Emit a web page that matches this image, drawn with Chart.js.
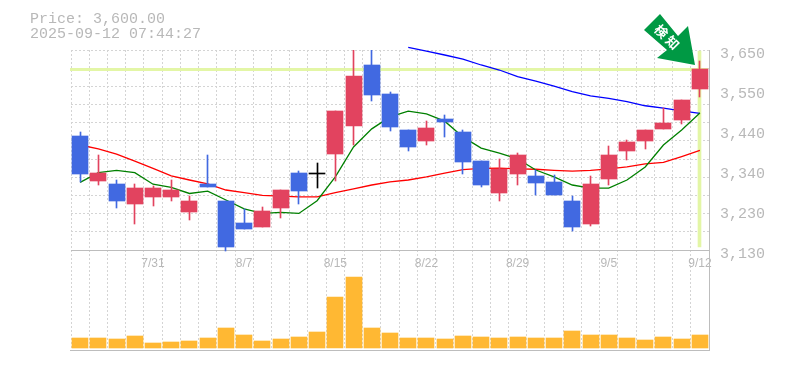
<!DOCTYPE html>
<html lang="ja">
<head>
<meta charset="utf-8">
<title>Price chart</title>
<style>
    html, body { margin: 0; padding: 0; background: #fff; }
    canvas { display: block; }
</style>
</head>
<body>
<canvas id="price-chart" width="785" height="370"></canvas>
<script src="https://cdn.jsdelivr.net/npm/chart.js@4/dist/chart.umd.min.js"></script>
<script>
const dates = ['7/25', '7/28', '7/29', '7/30', '7/31', '8/1', '8/4', '8/5', '8/6', '8/7', '8/8', '8/12',
    '8/13', '8/14', '8/15', '8/18', '8/19', '8/20', '8/21', '8/22', '8/25', '8/26', '8/27', '8/28', '8/29',
    '9/1', '9/2', '9/3', '9/4', '9/5', '9/8', '9/9', '9/10', '9/11', '9/12'];
const labelledDates = ['7/31', '8/7', '8/15', '8/22', '8/29', '9/5', '9/12'];

const openPrices = [3426, 3309, 3302, 3250, 3268, 3268, 3229, 3302, 3257, 3200, 3190, 3239, 3330, 3329, 3380,
    3452, 3611, 3536, 3442, 3413, 3471, 3437, 3361, 3278, 3328, 3322, 3307, 3257, 3198, 3315, 3387, 3413, 3445, 3468, 3549];
const highPrices = [3437, 3377, 3312, 3302, 3296, 3312, 3270, 3377, 3257, 3237, 3242, 3286, 3335, 3356, 3491,
    3690, 3660, 3541, 3442, 3465, 3481, 3442, 3361, 3367, 3382, 3338, 3325, 3270, 3322, 3400, 3416, 3442, 3500, 3520, 3621];
const lowPrices = [3308, 3299, 3239, 3198, 3244, 3257, 3208, 3294, 3127, 3185, 3190, 3213, 3250, 3291, 3309,
    3403, 3517, 3439, 3387, 3403, 3424, 3328, 3294, 3257, 3299, 3273, 3273, 3179, 3192, 3299, 3364, 3393, 3445, 3458, 3528];
const closePrices = [3328, 3330, 3257, 3291, 3291, 3286, 3257, 3294, 3138, 3185, 3231, 3286, 3283, 3329, 3491,
    3582, 3533, 3450, 3398, 3447, 3463, 3359, 3299, 3341, 3377, 3304, 3273, 3190, 3302, 3377, 3411, 3442, 3460, 3520, 3600];

const shortAverage = [3306, 3331, 3337, 3331, 3301, 3293, 3277, 3283, 3260, 3237, 3225, 3228, 3225, 3258, 3320,
    3398, 3445, 3476, 3491, 3484, 3465, 3424, 3395, 3382, 3367, 3338, 3320, 3299, 3291, 3291, 3312, 3346, 3403, 3442, 3486];
const middleAverage = [3403, 3393, 3379, 3361, 3342, 3323, 3312, 3302, 3286, 3279, 3272, 3270, 3268, 3268, 3279,
    3289, 3299, 3307, 3312, 3320, 3330, 3339, 3342, 3343, 3341, 3340, 3337, 3335, 3337, 3341, 3346, 3354, 3358, 3373, 3389];
const longAverage = [null, null, null, null, null, null, null, null, null, null, null, null, null, null, null,
    null, null, null, 3657, 3647, 3637, 3626, 3611, 3598, 3581, 3569, 3556, 3542, 3531, 3524, 3516, 3505, 3499, 3492, 3485];

// thousands of shares
const volumes = [100, 100, 90, 120, 50, 60, 70, 100, 200, 130, 70, 90, 110, 160, 510,
    710, 200, 150, 100, 100, 90, 120, 110, 100, 110, 100, 100, 170, 130, 130, 100, 80, 110, 90, 130];

const priceTicks = [3650, 3546, 3442, 3338, 3234, 3130];
const priceLabels = ['3,650', '3,550', '3,440', '3,340', '3,230', '3,130'];
const priceMax = 3650;
const priceMin = 3130;
const currentPrice = 3600;
const headerLines = ['Price: 3,600.00', '2025-09-12 07:44:27'];
const signalText = ['検', '知'];

const RED = '#e2435f';
const BLUE = '#4169e1';
const BLACK = '#000000';
const ORANGE = '#ffb833';
const HIGHLIGHT = '#e3f6a6';
const GRID = '#d4d4d4';
const AXIS = '#bdbdbd';
const TEXT = '#b8b8b8';
const MONO = '"Liberation Mono", monospace';

function candleColor(index) {
    if (closePrices[index] > openPrices[index]) return RED;
    if (closePrices[index] < openPrices[index]) return BLUE;
    return BLACK;
}

const candleColors = dates.map((d, i) => candleColor(i));
const lastIndex = dates.length - 1;

// Snap bars to whole pixels so the candles stay crisp
const snapBars = {
    id: 'snapBars',
    beforeDatasetsDraw(chart) {
        chart.getSortedVisibleDatasetMetas().forEach(meta => {
            if (meta.type !== 'bar') return;
            meta.data.forEach(bar => {
                if (bar.skip || bar.width === undefined) return;
                bar.x = Math.round(bar.x - bar.width / 2) + bar.width / 2;
                bar.y = Math.round(bar.y);
                bar.base = Math.round(bar.base);
                if (bar.base === bar.y) bar.base = bar.y + 1;
            });
        });
    }
};

// Current price line and the panel's bottom edge
const panelLines = {
    id: 'panelLines',
    beforeDatasetsDraw(chart) {
        const { ctx, chartArea, scales } = chart;
        const priceY = Math.round(scales.y.getPixelForValue(currentPrice));
        ctx.save();
        ctx.fillStyle = HIGHLIGHT;
        ctx.fillRect(chartArea.left - 1, priceY - 1, chartArea.right - chartArea.left, 3);
        ctx.fillStyle = AXIS;
        ctx.fillRect(chartArea.left - 1, chartArea.bottom, chartArea.right - chartArea.left + 2, 1);
        ctx.restore();
    }
};

// Header text and the green signal arrow
const overlay = {
    id: 'overlay',
    afterDraw(chart) {
        const { ctx } = chart;
        ctx.save();
        ctx.font = '15px ' + MONO;
        ctx.fillStyle = TEXT;
        ctx.textBaseline = 'middle';
        ctx.fillText(headerLines[0], 30, 19);
        ctx.fillText(headerLines[1], 30, 34);

        ctx.fillStyle = '#009944';
        ctx.beginPath();
        ctx.moveTo(660, 14);
        ctx.lineTo(644, 30);
        ctx.lineTo(667, 50);
        ctx.lineTo(657, 58);
        ctx.lineTo(695, 65);
        ctx.lineTo(688, 26);
        ctx.lineTo(678, 36);
        ctx.closePath();
        ctx.fill();

        ctx.fillStyle = '#ffffff';
        ctx.font = 'bold 13px "Noto Sans CJK JP"';
        ctx.textAlign = 'center';
        ctx.translate(667, 37);
        ctx.rotate(Math.PI / 4);
        ctx.fillText(signalText[0], -8, 0);
        ctx.fillText(signalText[1], 8, 0);
        ctx.restore();
    }
};

const ctx = document.getElementById('price-chart').getContext('2d');

new Chart(ctx, {
    data: {
        labels: dates,
        datasets: [
            {
                type: 'bar',
                label: 'Latest',
                data: dates.map((d, i) => (i === lastIndex ? [3138, 3647] : null)),
                backgroundColor: HIGHLIGHT,
                barThickness: 3,
                grouped: false,
                order: 6,
                yAxisID: 'y'
            },
            {
                type: 'line',
                label: 'Long average',
                data: longAverage,
                borderColor: '#0000ff',
                borderWidth: 1.3,
                pointRadius: 0,
                tension: 0,
                order: 5,
                clip: { left: 0, top: 4, right: 0, bottom: 0 },
                yAxisID: 'y'
            },
            {
                type: 'line',
                label: 'Middle average',
                data: middleAverage,
                borderColor: '#ff0000',
                borderWidth: 1.3,
                pointRadius: 0,
                tension: 0,
                order: 4,
                yAxisID: 'y'
            },
            {
                type: 'line',
                label: 'Short average',
                data: shortAverage,
                borderColor: '#008000',
                borderWidth: 1.3,
                pointRadius: 0,
                tension: 0,
                order: 3,
                yAxisID: 'y'
            },
            {
                type: 'bar',
                label: 'Wick',
                data: dates.map((d, i) => [lowPrices[i], highPrices[i]]),
                backgroundColor: candleColors,
                barThickness: 1,
                grouped: false,
                order: 2,
                yAxisID: 'y'
            },
            {
                type: 'bar',
                label: 'Body',
                data: dates.map((d, i) => [openPrices[i], closePrices[i]]),
                backgroundColor: candleColors,
                barThickness: 16,
                grouped: false,
                order: 1,
                yAxisID: 'y'
            },
            {
                type: 'bar',
                label: 'Volume',
                data: volumes,
                backgroundColor: ORANGE,
                barThickness: 16,
                grouped: false,
                order: 1,
                yAxisID: 'yVolume'
            }
        ]
    },
    options: {
        responsive: false,
        animation: false,
        events: [],
        layout: {
            padding: { left: 71, top: 50, right: 0, bottom: 20 }
        },
        plugins: {
            legend: { display: false },
            tooltip: { enabled: false }
        },
        scales: {
            x: {
                type: 'category',
                position: { y: priceMin },
                offset: true,
                grid: {
                    offset: true,
                    color: GRID,
                    lineWidth: 1,
                    drawTicks: false
                },
                border: { display: true, color: AXIS, width: 1, dash: [2, 2] },
                ticks: {
                    autoSkip: false,
                    maxRotation: 0,
                    padding: 6,
                    color: TEXT,
                    font: { family: '"Liberation Sans"', size: 12 },
                    callback: function(value) {
                        const label = this.getLabelForValue(value);
                        return labelledDates.includes(label) ? label : '';
                    }
                }
            },
            y: {
                type: 'linear',
                position: 'right',
                // the lower part of this range is the volume panel
                min: priceMin - 260,
                max: priceMax,
                afterFit(scale) {
                    scale.width = 76;
                },
                // 11 grid rows, labels every 104 yen on ticks of their own
                afterBuildTicks(scale) {
                    const step = (priceMax - priceMin) / 11;
                    const rows = Array.from({ length: 12 }, (v, i) => ({ value: priceMax - step * i }));
                    const labelOnly = priceTicks.slice(1, -1).map(v => ({ value: v, labelOnly: true }));
                    scale.ticks = rows.concat(labelOnly);
                },
                grid: {
                    color: context => (context.tick && context.tick.labelOnly ? 'transparent' : GRID),
                    lineWidth: 1,
                    drawTicks: false
                },
                border: { display: true, color: AXIS, width: 1, dash: [2, 2] },
                ticks: {
                    autoSkip: false,
                    padding: 11,
                    labelOffset: 4,
                    color: TEXT,
                    font: { family: MONO, size: 15 },
                    callback: value => {
                        const index = priceTicks.findIndex(p => Math.abs(p - value) < 0.01);
                        return index >= 0 ? priceLabels[index] : '';
                    }
                }
            },
            yVolume: {
                type: 'linear',
                display: false,
                min: -20,
                max: 2980
            }
        }
    },
    plugins: [snapBars, panelLines, overlay]
});
</script>
</body>
</html>
